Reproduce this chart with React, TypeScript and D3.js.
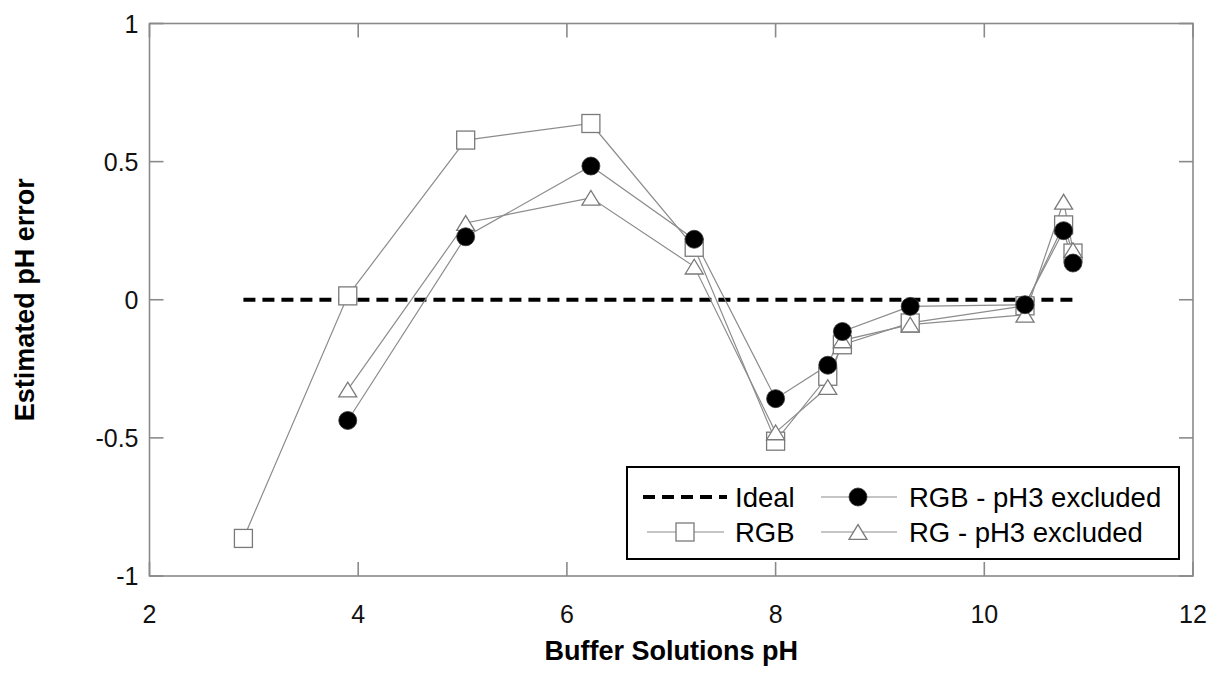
import React from 'react'
import * as d3 from 'd3'

// buffer pH values (x)
const phAll = [2.9, 3.9, 5.03, 6.23, 7.22, 8.0, 8.5, 8.64, 9.29, 10.39, 10.76, 10.85]
const phExcl = [3.9, 5.03, 6.23, 7.22, 8.0, 8.5, 8.64, 9.29, 10.39, 10.76, 10.85]

// estimated pH error
const rgbErr = [-0.864, 0.014, 0.578, 0.638, 0.19, -0.512, -0.277, -0.163, -0.084, -0.022, 0.271, 0.169]
const rgbExclErr = [-0.437, 0.228, 0.484, 0.219, -0.358, -0.237, -0.115, -0.024, -0.018, 0.25, 0.133]
const rgExclErr = [-0.325, 0.278, 0.369, 0.12, -0.48, -0.316, -0.147, -0.09, -0.054, 0.355, 0.18]

const idealX = [2.9, 10.85]
const idealY = [0, 0]

const xTicks = [2, 4, 6, 8, 10, 12]
const yTicks = [-1, -0.5, 0, 0.5, 1]

const W = 1219
const H = 675
const margin = {top: 23.5, right: 26, bottom: 99, left: 149.5}
const font = 'Liberation Sans, Arial, sans-serif'
const frameColor = '#8a8a8a'
const lineColor = '#8c8c8c'
const markStroke = '#7a7a7a'

const x = d3.scaleLinear().domain([2, 12]).range([margin.left, W - margin.right])
const y = d3.scaleLinear().domain([-1, 1]).range([H - margin.bottom, margin.top])

const zip = (xs: number[], ys: number[]) => xs.map((v, i) => [v, ys[i]] as [number, number])
const line = d3
  .line<[number, number]>()
  .x(d => x(d[0]))
  .y(d => y(d[1]))

const S = 18

function Square({cx, cy}: {cx: number; cy: number}) {
  return <rect x={cx - S / 2} y={cy - S / 2} width={S} height={S} fill="white" stroke={markStroke} strokeWidth={1.3} />
}
function Circle({cx, cy}: {cx: number; cy: number}) {
  return <circle cx={cx} cy={cy} r={S / 2} fill="black" stroke="#333" strokeWidth={0.8} />
}
function Tri({cx, cy}: {cx: number; cy: number}) {
  const h = S * 0.82
  const p = `${cx - S / 2},${cy + h / 2} ${cx + S / 2},${cy + h / 2} ${cx},${cy - h / 2}`
  return <polygon points={p} fill="white" stroke={markStroke} strokeWidth={1.3} />
}

export default function App() {
  const rgb = zip(phAll, rgbErr)
  const rgbEx = zip(phExcl, rgbExclErr)
  const rgEx = zip(phExcl, rgExclErr)
  const ideal = zip(idealX, idealY)
  const x0 = margin.left
  const x1 = W - margin.right
  const y0 = margin.top
  const y1 = H - margin.bottom
  const tick = 14

  // legend box
  const lg = {x: 627, y: 467, w: 552, h: 92}
  const r1 = 497
  const r2 = 532
  const lfs = 27.5

  return (
    <svg width={W} height={H} style={{position: 'absolute', left: 0, top: 0}} fontFamily={font}>
      <rect width={W} height={H} fill="white" />
      {/* frame */}
      <rect x={x0} y={y0} width={x1 - x0} height={y1 - y0} fill="none" stroke={frameColor} strokeWidth={1.6} />
      {xTicks.map(t => (
        <g key={'x' + t}>
          <line x1={x(t)} x2={x(t)} y1={y1} y2={y1 - tick} stroke={frameColor} strokeWidth={1.6} />
          <line x1={x(t)} x2={x(t)} y1={y0} y2={y0 + tick} stroke={frameColor} strokeWidth={1.6} />
          <text x={x(t)} y={623} textAnchor="middle" fontSize={25} fill="#111">
            {t}
          </text>
        </g>
      ))}
      {yTicks.map(t => (
        <g key={'y' + t}>
          <line x1={x0} x2={x0 + tick} y1={y(t)} y2={y(t)} stroke={frameColor} strokeWidth={1.6} />
          <line x1={x1} x2={x1 - tick} y1={y(t)} y2={y(t)} stroke={frameColor} strokeWidth={1.6} />
          <text x={x0 - 11} y={y(t) + 9} textAnchor="end" fontSize={25} fill="#111">
            {t}
          </text>
        </g>
      ))}
      <text x={(x0 + x1) / 2} y={660} textAnchor="middle" fontSize={27} fontWeight="bold">
        Buffer Solutions pH
      </text>
      <text
        transform={`translate(34,${(y0 + y1) / 2}) rotate(-90)`}
        textAnchor="middle"
        fontSize={27}
        fontWeight="bold"
      >
        Estimated pH error
      </text>

      {/* ideal */}
      <path d={line(ideal) || ''} fill="none" stroke="black" strokeWidth={4} strokeDasharray="12,7" />

      {/* series lines */}
      <path d={line(rgb) || ''} fill="none" stroke={lineColor} strokeWidth={1.2} />
      <path d={line(rgbEx) || ''} fill="none" stroke={lineColor} strokeWidth={1.2} />
      <path d={line(rgEx) || ''} fill="none" stroke={lineColor} strokeWidth={1.2} />

      {rgb.map((d, i) => (
        <Square key={'s' + i} cx={x(d[0])} cy={y(d[1])} />
      ))}
      {rgEx.map((d, i) => (
        <Tri key={'t' + i} cx={x(d[0])} cy={y(d[1])} />
      ))}
      {rgbEx.map((d, i) => (
        <Circle key={'c' + i} cx={x(d[0])} cy={y(d[1])} />
      ))}

      {/* legend */}
      <rect x={lg.x} y={lg.y} width={lg.w} height={lg.h} fill="white" stroke="black" strokeWidth={2} />
      <line x1={643} x2={727} y1={r1} y2={r1} stroke="black" strokeWidth={4} strokeDasharray="12,7" />
      <text x={735} y={r1 + 10} fontSize={lfs}>
        Ideal
      </text>
      <line x1={647} x2={724} y1={r2} y2={r2} stroke={lineColor} strokeWidth={1.2} />
      <Square cx={685} cy={r2} />
      <text x={735} y={r2 + 10} fontSize={lfs}>
        RGB
      </text>
      <line x1={821} x2={897} y1={r1} y2={r1} stroke={lineColor} strokeWidth={1.2} />
      <Circle cx={858} cy={r1} />
      <text x={909} y={r1 + 10} fontSize={lfs}>
        RGB - pH3 excluded
      </text>
      <line x1={821} x2={897} y1={r2} y2={r2} stroke={lineColor} strokeWidth={1.2} />
      <Tri cx={858} cy={r2} />
      <text x={909} y={r2 + 10} fontSize={lfs}>
        RG - pH3 excluded
      </text>
    </svg>
  )
}
